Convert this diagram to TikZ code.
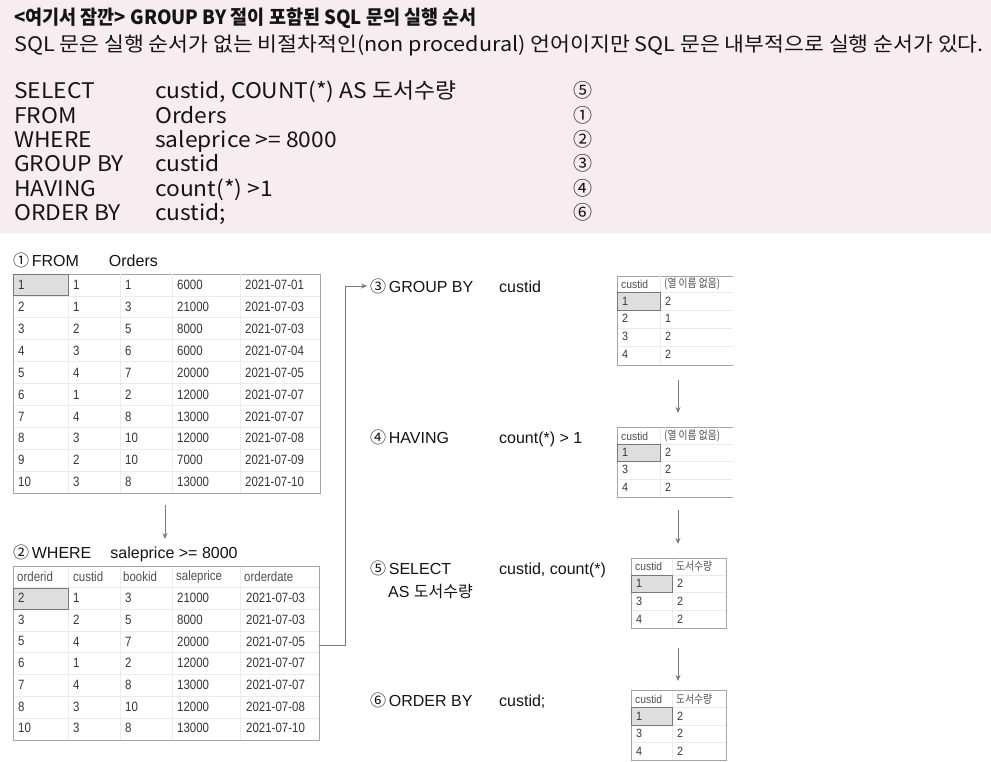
\documentclass[tikz,border=0pt]{standalone}
\usepackage{fontspec}
\setmainfont{Noto Sans CJK KR}
\newfontfamily\kr{Noto Sans CJK KR}
\newfontfamily\krwide[FakeStretch=1.08]{Noto Sans CJK KR}
\newfontfamily\krcode[FakeStretch=1.06]{Noto Sans CJK KR}
\newfontfamily\krtitle[FakeStretch=0.95]{Noto Sans CJK KR}
\newfontfamily\ar{Liberation Sans}
\newfontfamily\tb[FakeStretch=0.85]{Liberation Sans}
\newfontfamily\tbs[FakeStretch=0.9]{Liberation Sans}
\newfontfamily\tbk[FakeStretch=0.85]{Noto Sans CJK KR}
\usetikzlibrary{arrows.meta}
\definecolor{bgpink}{RGB}{247,237,241}
\definecolor{txt}{RGB}{20,20,20}
\definecolor{celltxt}{RGB}{55,55,55}
\definecolor{hdrtxt}{RGB}{80,80,80}
\definecolor{frame}{RGB}{165,165,165}
\definecolor{gridc}{RGB}{235,235,235}
\definecolor{selfill}{RGB}{222,222,222}
\definecolor{arrc}{RGB}{120,120,120}
\tikzset{
  toptext/.style={anchor=base west, inner sep=0pt, text=txt, font=\krcode\fontsize{21.5}{21.5}\selectfont},
  numtext/.style={anchor=base, inner sep=0pt, text=txt, font=\kr\fontsize{19}{19}\selectfont},
  lbl/.style={anchor=base west, inner sep=0pt, text=txt, font=\ar\fontsize{16}{16}\selectfont},
  tblbox/.style={draw=frame, line width=0.9pt, anchor=north west, inner sep=0pt},
  gridline/.style={draw=gridc, line width=0.8pt},
  selcell/.style={fill=selfill, draw=arrc, line width=0.8pt},
  cell/.style={anchor=west, inner sep=0pt, text=celltxt, font=\tb\fontsize{13.5}{13.5}\selectfont},
  hcell/.style={anchor=west, inner sep=0pt, text=hdrtxt, font=\tb\fontsize{13.5}{13.5}\selectfont},
  scell/.style={anchor=west, inner sep=0pt, text=celltxt, font=\tbs\fontsize{12}{12}\selectfont},
  shcell/.style={anchor=west, inner sep=0pt, text=hdrtxt, font=\tbk\fontsize{11.5}{11.5}\selectfont},
  arr/.style={draw=arrc, line width=0.9pt, -{Stealth[length=6pt,width=5pt]}}
}
\begin{document}
\begin{tikzpicture}[x=1pt,y=-1pt]
\useasboundingbox (0,0) rectangle (991,762);
\fill[white] (0,0) rectangle (991,762);
\node[fill=bgpink, minimum width=991pt, minimum height=233pt, anchor=north west, inner sep=0pt] (bg) at (0,0) {};

% header
\node[anchor=base west, inner sep=0pt, text=txt, font=\krtitle\bfseries\fontsize{19.5}{19.5}\selectfont] (title) at (14,25) {<여기서 잠깐> GROUP BY 절이 포함된 SQL 문의 실행 순서};
\node[anchor=base west, inner sep=0pt, text=txt, font=\krwide\fontsize{20}{20}\selectfont] (sub) at (14,52) {SQL 문은 실행 순서가 없는 비절차적인(non procedural) 언어이지만 SQL 문은 내부적으로 실행 순서가 있다.};

% code lines
\foreach \k/\v/\n [count=\i from 0] in {SELECT/{custid, COUNT(*) AS 도서수량}/⑤, FROM/Orders/①, WHERE/{saleprice >= 8000}/②, GROUP BY/custid/③, HAVING/{count(*) >1}/④, ORDER BY/custid;/⑥}{
  \node[toptext] (kw\i) at (14,{99+24.3*\i}) {\k};
  \node[toptext] (val\i) at (155,{99+24.3*\i}) {\v};
  \node[numtext] (num\i) at (583,{98+24.3*\i}) {\n};
}

% ---------- table 1 (FROM) ----------
\node[lbl] (l1) at (13,267) {{\kr ①}\,FROM\hspace{30pt}Orders};
\node[tblbox, minimum width=307pt, minimum height=219pt] (t1) at (13,274) {};
\foreach \gx in {68,120,172,240} \draw[gridline] (\gx,274.5) -- (\gx,492.5);
\foreach \r in {1,...,9} \draw[gridline] (13.5,{274+21.9*\r}) -- (319.5,{274+21.9*\r});
\draw[selcell] (13.5,274.5) rectangle (68,295.5);
\foreach \a/\b/\c/\d/\e [count=\i from 0] in {1/1/1/6000/2021-07-01, 2/1/3/21000/2021-07-03, 3/2/5/8000/2021-07-03, 4/3/6/6000/2021-07-04, 5/4/7/20000/2021-07-05, 6/1/2/12000/2021-07-07, 7/4/8/13000/2021-07-07, 8/3/10/12000/2021-07-08, 9/2/10/7000/2021-07-09, 10/3/8/13000/2021-07-10}{
  \node[cell] (t1r\i a) at (18,{285+21.9*\i}) {\a};
  \node[cell] (t1r\i b) at (73,{285+21.9*\i}) {\b};
  \node[cell] (t1r\i c) at (125,{285+21.9*\i}) {\c};
  \node[cell] (t1r\i d) at (177,{285+21.9*\i}) {\d};
  \node[cell] (t1r\i e) at (245,{285+21.9*\i}) {\e};
}
\coordinate (a1s) at (165,505);
\coordinate (a1e) at (165,539);
\draw[arr] (a1s) -- (a1e);

% ---------- table 2 (WHERE) ----------
\node[lbl] (l2) at (13,558) {{\kr ②}\,WHERE\hspace{19pt}saleprice >= 8000};
\node[tblbox, minimum width=306pt, minimum height=174pt] (t2) at (13,566) {};
\foreach \gx in {68,120,172,240} \draw[gridline] (\gx,566.5) -- (\gx,739.5);
\foreach \r in {1,...,7} \draw[gridline] (13.5,{566+21.7*\r}) -- (318.5,{566+21.7*\r});
\draw[selcell] (13.5,588) rectangle (68,609);
\foreach \h/\x [count=\i] in {orderid/17, custid/73, bookid/123, saleprice/176, orderdate/244}
  \node[hcell] (t2h\i) at (\x,577) {\h};
\foreach \a/\b/\c/\d/\e [count=\i from 0] in {2/1/3/21000/2021-07-03, 3/2/5/8000/2021-07-03, 5/4/7/20000/2021-07-05, 6/1/2/12000/2021-07-07, 7/4/8/13000/2021-07-07, 8/3/10/12000/2021-07-08, 10/3/8/13000/2021-07-10}{
  \node[cell] (t2r\i a) at (18,{598+21.7*\i}) {\a};
  \node[cell] (t2r\i b) at (73,{598+21.7*\i}) {\b};
  \node[cell] (t2r\i c) at (125,{598+21.7*\i}) {\c};
  \node[cell] (t2r\i d) at (177,{598+21.7*\i}) {\d};
  \node[cell] (t2r\i e) at (246,{598+21.7*\i}) {\e};
}
\coordinate (c2) at (319,645);
\coordinate (bend) at (345,286);
\coordinate (l3in) at (367,286);
\draw[arr] (c2) -| (bend) -- (l3in);

% ---------- right side labels ----------
\node[lbl] (l3) at (370,292) {{\kr ③}\,GROUP BY};
\node[lbl] (l3v) at (499,292) {custid};
\node[lbl] (l4) at (370,443) {{\kr ④}\,HAVING};
\node[lbl] (l4v) at (499,443) {count(*) > 1};
\node[lbl] (l5) at (370,574) {{\kr ⑤}\,SELECT};
\node[lbl] (l5b) at (388,597) {AS {\kr 도서수량}};
\node[lbl] (l5v) at (499,574) {custid, count(*)};
\node[lbl] (l6) at (370,706) {{\kr ⑥}\,ORDER BY};
\node[lbl] (l6v) at (499,706) {custid;};

% ---------- table 3 (GROUP BY) ----------
\draw[frame, line width=0.9pt] (733,276) -- (617,276) -- (617,365) -- (733,365);
\coordinate (t3) at (617,276);
\draw[gridline] (660,276.5) -- (660,364.5);
\foreach \yy in {292,310,328,346} \draw[gridline] (617.5,\yy) -- (733,\yy);
\draw[selcell] (617.5,292) rectangle (660,310);
\node[shcell] (t3h1) at (621,284) {\tbs custid};
\node[shcell] (t3h2) at (664,284) {(열 이름 없음)};
\foreach \a/\b [count=\i from 0] in {1/2, 2/1, 3/2, 4/2}{
  \node[scell] (t3r\i a) at (622,{301+17.8*\i}) {\a};
  \node[scell] (t3r\i b) at (665,{301+17.8*\i}) {\b};
}
\coordinate (a3s) at (678,380);
\coordinate (a3e) at (678,413);
\draw[arr] (a3s) -- (a3e);

% ---------- table 4 (HAVING) ----------
\draw[frame, line width=0.9pt] (733,427) -- (617,427) -- (617,497) -- (733,497);
\draw[gridline] (660,427.5) -- (660,496.5);
\foreach \yy in {444,461,479} \draw[gridline] (617.5,\yy) -- (733,\yy);
\draw[selcell] (617.5,444) rectangle (660,461);
\node[shcell] (t4h1) at (621,436) {\tbs custid};
\node[shcell] (t4h2) at (664,436) {(열 이름 없음)};
\foreach \a/\b [count=\i from 0] in {1/2, 3/2, 4/2}{
  \node[scell] (t4r\i a) at (622,{452+17.6*\i}) {\a};
  \node[scell] (t4r\i b) at (665,{452+17.6*\i}) {\b};
}
\coordinate (a4s) at (678,510);
\coordinate (a4e) at (678,544);
\draw[arr] (a4s) -- (a4e);

% ---------- table 5 (SELECT) ----------
\draw[frame, line width=0.9pt] (631,558) rectangle (726,628);
\draw[gridline] (672,558.5) -- (672,627.5);
\foreach \yy in {575,592,610} \draw[gridline] (631.5,\yy) -- (725.5,\yy);
\draw[selcell] (631.5,575) rectangle (672,592);
\node[shcell] (t5h1) at (635,566) {\tbs custid};
\node[shcell] (t5h2) at (676,566) {도서수량};
\foreach \a/\b [count=\i from 0] in {1/2, 3/2, 4/2}{
  \node[scell] (t5r\i a) at (636,{583+18*\i}) {\a};
  \node[scell] (t5r\i b) at (677,{583+18*\i}) {\b};
}
\coordinate (a5s) at (678,648);
\coordinate (a5e) at (678,681);
\draw[arr] (a5s) -- (a5e);

% ---------- table 6 (ORDER BY) ----------
\draw[frame, line width=0.9pt] (631,690) rectangle (726,760);
\draw[gridline] (672,690.5) -- (672,759.5);
\foreach \yy in {707,725,742} \draw[gridline] (631.5,\yy) -- (725.5,\yy);
\draw[selcell] (631.5,707) rectangle (672,725);
\node[shcell] (t6h1) at (635,699) {\tbs custid};
\node[shcell] (t6h2) at (676,699) {도서수량};
\foreach \a/\b [count=\i from 0] in {1/2, 3/2, 4/2}{
  \node[scell] (t6r\i a) at (636,{716+17.6*\i}) {\a};
  \node[scell] (t6r\i b) at (677,{716+17.6*\i}) {\b};
}
\end{tikzpicture}
\end{document}
